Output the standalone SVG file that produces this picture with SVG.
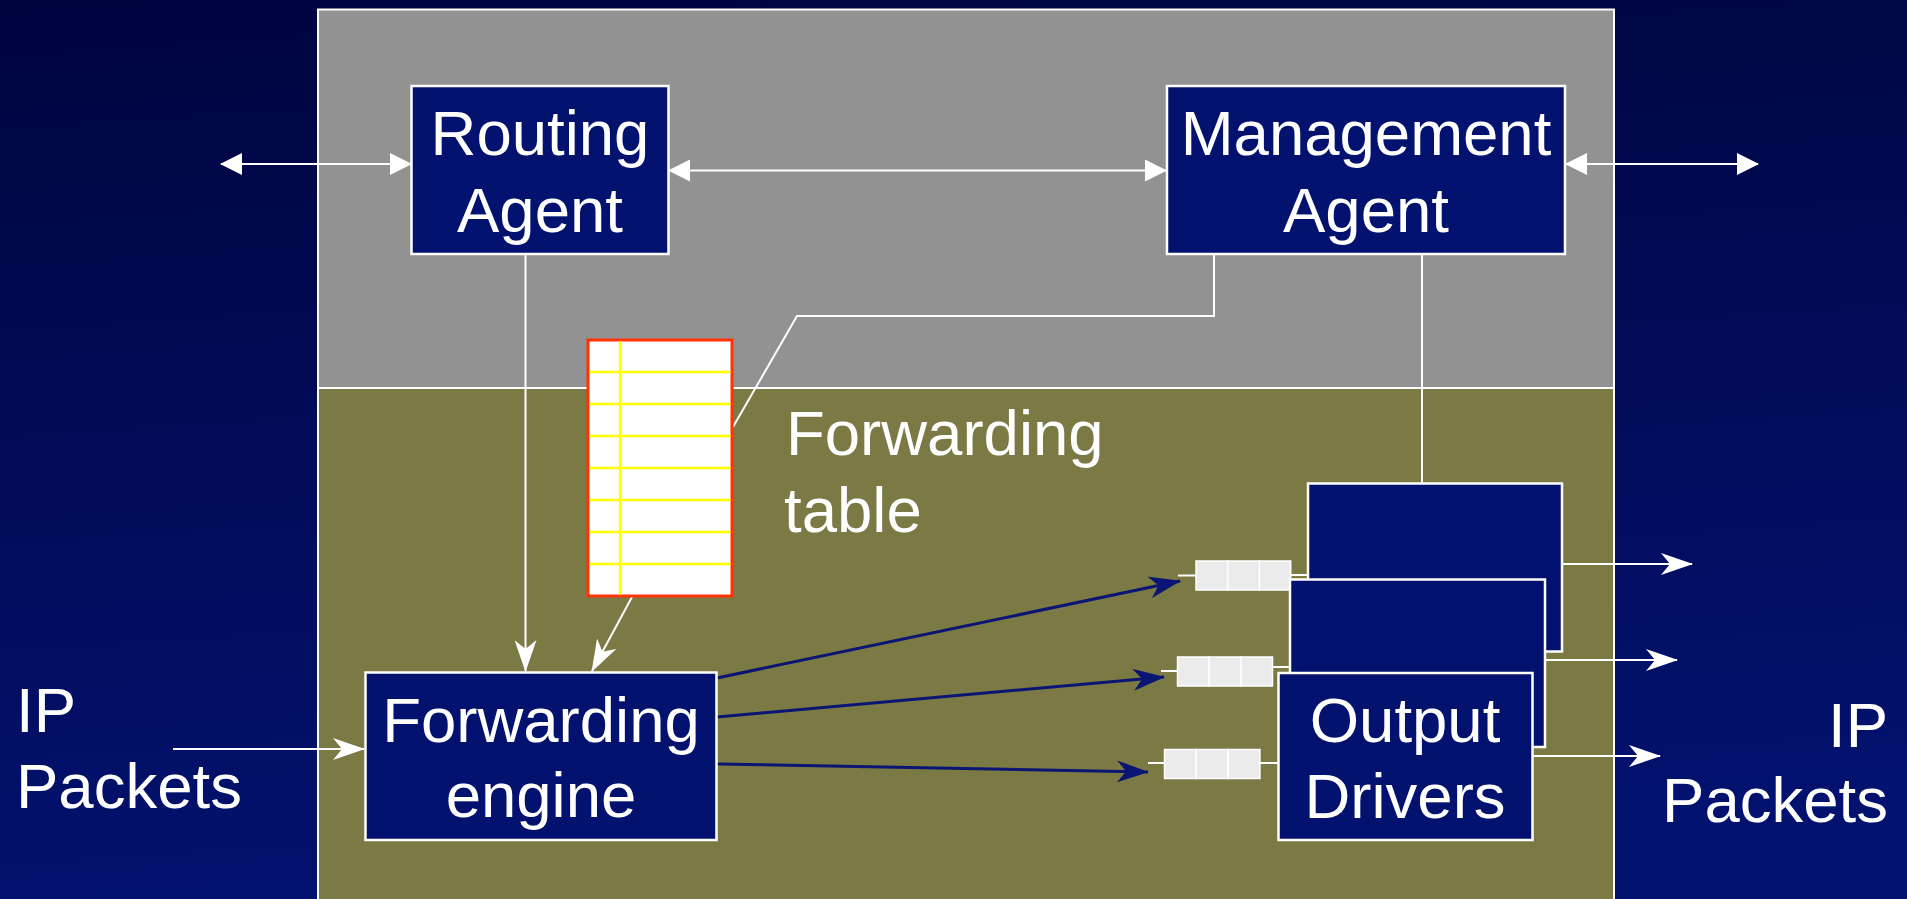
<svg xmlns="http://www.w3.org/2000/svg" width="1907" height="899" viewBox="0 0 1907 899">
<defs>
<linearGradient id="bg" x1="0" y1="0" x2="0.15" y2="1">
<stop offset="0" stop-color="#00043F"/>
<stop offset="1" stop-color="#03126F"/>
</linearGradient>
<marker id="tri" viewBox="0 0 22 22" markerWidth="22" markerHeight="22" refX="21" refY="11" orient="auto-start-reverse" markerUnits="userSpaceOnUse">
<path d="M0,0 L22,11 L0,22 z" fill="#fff"/>
</marker>
<marker id="stw" viewBox="0 0 32 22" markerWidth="32" markerHeight="22" refX="31" refY="11" orient="auto" markerUnits="userSpaceOnUse">
<path d="M0,0 L32,11 L0,22 L9,11 z" fill="#fff"/>
</marker>
<marker id="stb" viewBox="0 0 32 22" markerWidth="32" markerHeight="22" refX="31" refY="11" orient="auto" markerUnits="userSpaceOnUse">
<path d="M0,0 L32,11 L0,22 L9,11 z" fill="#0B1674"/>
</marker>
<style>
.box{fill:#03126F;stroke:#fff;stroke-width:2.5}
.lbl{font-family:"Liberation Sans",Arial,sans-serif;font-size:63.5px;fill:#fff}
.c{text-anchor:middle}
.w{fill:none;stroke:#fff;stroke-width:2}
.b{fill:none;stroke:#0B1674;stroke-width:3}
.cell{fill:#EBEBEB;stroke:#fff;stroke-width:1.5}
.yl{stroke:#FFFF00;stroke-width:2.5}
</style>
</defs>
<rect x="0" y="0" width="1907" height="899" fill="url(#bg)"/>
<g id="panels">
<rect x="318" y="9.5" width="1296" height="378.5" fill="#929292" stroke="#fff" stroke-width="2"/>
<rect x="318" y="388" width="1296" height="520" fill="#7B7944" stroke="#fff" stroke-width="2"/>
</g>
<g id="connectors">
<line class="w" x1="221" y1="164" x2="411" y2="164" marker-start="url(#tri)" marker-end="url(#tri)"/>
<line class="w" x1="669" y1="170.5" x2="1166" y2="170.5" marker-start="url(#tri)" marker-end="url(#tri)"/>
<line class="w" x1="1566" y1="164" x2="1758" y2="164" marker-start="url(#tri)" marker-end="url(#tri)"/>
<line class="w" x1="525.5" y1="254" x2="525.5" y2="671" marker-end="url(#stw)"/>
<polyline class="w" points="1214,254 1214,316 797,316 733,427"/>
<line class="w" x1="1422" y1="254" x2="1422" y2="483"/>
<line class="w" x1="632" y1="597" x2="592" y2="671" marker-end="url(#stw)"/>
<line class="w" x1="173" y1="749" x2="364" y2="749" marker-end="url(#stw)"/>
<line class="b" x1="717" y1="678" x2="1180" y2="581" marker-end="url(#stb)"/>
<line class="b" x1="717" y1="717" x2="1164" y2="677" marker-end="url(#stb)"/>
<line class="b" x1="717" y1="764" x2="1148" y2="772" marker-end="url(#stb)"/>
<line class="w" x1="1562" y1="564" x2="1692" y2="564" marker-end="url(#stw)"/>
<line class="w" x1="1545" y1="660" x2="1677" y2="660" marker-end="url(#stw)"/>
<line class="w" x1="1532" y1="756" x2="1660" y2="756" marker-end="url(#stw)"/>
<line class="w" x1="1178" y1="575.5" x2="1196" y2="575.5"/>
<line class="w" x1="1290" y1="575" x2="1309" y2="575"/>
<line class="w" x1="1161" y1="671" x2="1178" y2="671"/>
<line class="w" x1="1272" y1="667" x2="1291" y2="667"/>
<line class="w" x1="1148" y1="763" x2="1165" y2="763"/>
<line class="w" x1="1259" y1="763" x2="1279" y2="763"/>
</g>
<g id="routing-agent">
<rect class="box" x="411.5" y="86" width="257" height="168"/>
<text class="lbl c" x="540" y="155">Routing</text>
<text class="lbl c" x="540" y="232">Agent</text>
</g>
<g id="management-agent">
<rect class="box" x="1167" y="86" width="398" height="168"/>
<text class="lbl c" x="1366" y="155">Management</text>
<text class="lbl c" x="1366" y="232">Agent</text>
</g>
<g id="forwarding-table">
<rect x="588" y="340" width="144" height="256" fill="#fff" stroke="#FF3300" stroke-width="3"/>
<line class="yl" x1="620" y1="341.5" x2="620" y2="594.5"/>
<line class="yl" x1="589.5" y1="372" x2="730.5" y2="372"/>
<line class="yl" x1="589.5" y1="404" x2="730.5" y2="404"/>
<line class="yl" x1="589.5" y1="436" x2="730.5" y2="436"/>
<line class="yl" x1="589.5" y1="468" x2="730.5" y2="468"/>
<line class="yl" x1="589.5" y1="500" x2="730.5" y2="500"/>
<line class="yl" x1="589.5" y1="532" x2="730.5" y2="532"/>
<line class="yl" x1="589.5" y1="564" x2="730.5" y2="564"/>
<text class="lbl" x="786" y="455">Forwarding</text>
<text class="lbl" x="784" y="532">table</text>
</g>
<g id="forwarding-engine">
<rect class="box" x="365.5" y="672.5" width="351" height="167.5"/>
<text class="lbl c" x="541" y="742">Forwarding</text>
<text class="lbl c" x="541" y="817">engine</text>
</g>
<g id="queue-1">
<rect class="cell" x="1196" y="561" width="31.7" height="29"/>
<rect class="cell" x="1227.7" y="561" width="31.7" height="29"/>
<rect class="cell" x="1259.4" y="561" width="31.3" height="29"/>
</g>
<g id="queue-2">
<rect class="cell" x="1177.5" y="657" width="31.7" height="29"/>
<rect class="cell" x="1209.2" y="657" width="31.7" height="29"/>
<rect class="cell" x="1240.9" y="657" width="31.6" height="29"/>
</g>
<g id="queue-3">
<rect class="cell" x="1164.5" y="749.5" width="31.8" height="29"/>
<rect class="cell" x="1196.3" y="749.5" width="31.8" height="29"/>
<rect class="cell" x="1228.1" y="749.5" width="31.8" height="29"/>
</g>
<g id="output-drivers">
<rect class="box" x="1308" y="483.5" width="254" height="168"/>
<rect class="box" x="1290" y="579.5" width="255" height="167.5"/>
<rect class="box" x="1278.5" y="673" width="254" height="167"/>
<text class="lbl c" x="1405" y="742">Output</text>
<text class="lbl c" x="1405" y="818">Drivers</text>
</g>
<g id="ip-in">
<text class="lbl" x="16" y="732">IP</text>
<text class="lbl" x="16" y="808">Packets</text>
</g>
<g id="ip-out">
<text class="lbl" x="1888" y="747" text-anchor="end">IP</text>
<text class="lbl" x="1888" y="822" text-anchor="end">Packets</text>
</g>
</svg>
